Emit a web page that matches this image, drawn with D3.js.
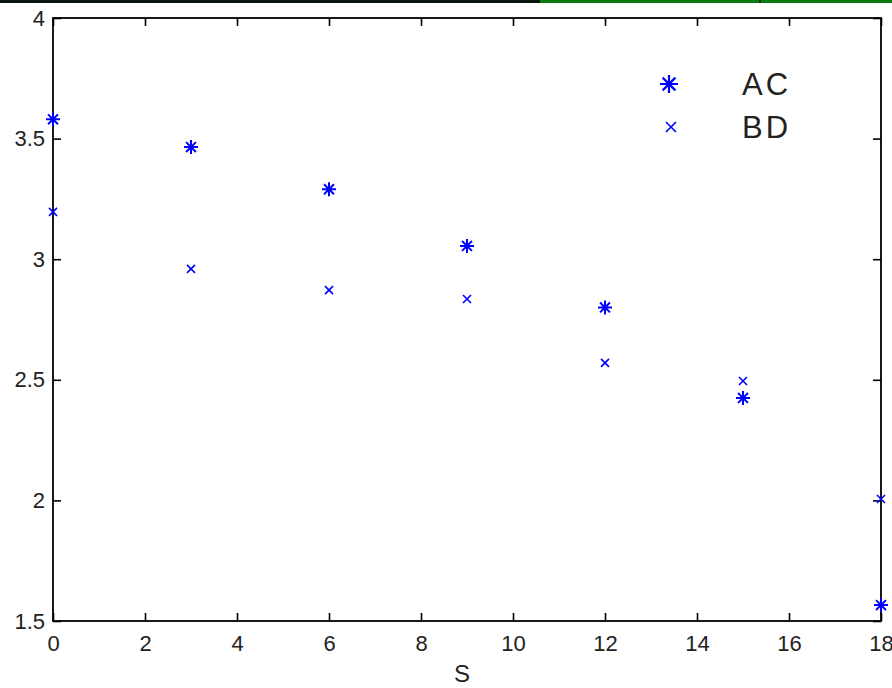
<!DOCTYPE html>
<html>
<head>
<meta charset="utf-8">
<script src="https://cdn.jsdelivr.net/npm/d3@7"></script>
<style>
  body { margin: 0; background: #fff; }
  svg { display: block; font-family: "Liberation Sans", Arial, sans-serif; }
  .axis text { font-size: 22px; fill: #222; }
  .axis path, .axis line { stroke: #000; stroke-width: 1.6; }
</style>
</head>
<body>
<div id="chart"></div>
<script>
// data
let sVals = [0, 3, 6, 9, 12, 15, 18];
let acVals = [3.58, 3.465, 3.29, 3.055, 2.80, 2.425, 1.566];
let bdVals = [3.196, 2.96, 2.872, 2.835, 2.57, 2.495, 2.006];
let xTicks = [0, 2, 4, 6, 8, 10, 12, 14, 16, 18];
let yTicks = [1.5, 2, 2.5, 3, 3.5, 4];
let seriesNames = ["AC", "BD"];

let width = 892, height = 688;
let margin = {top: 18, right: 11, bottom: 67, left: 53};
let w = width - margin.left - margin.right,
    h = height - margin.top - margin.bottom;

let svg = d3.select("#chart").append("svg")
    .attr("width", width)
    .attr("height", height);

// strip at the very top of the screenshot
svg.append("rect").attr("x", 0).attr("y", 0).attr("width", 545).attr("height", 3).attr("fill", "#0b140d");
svg.append("rect").attr("x", 540).attr("y", 0).attr("width", 352).attr("height", 3).attr("fill", "#0a7a12");
svg.append("rect").attr("x", 759).attr("y", 0).attr("width", 2).attr("height", 3).attr("fill", "#0b3a0e");

let g = svg.append("g")
    .attr("transform", "translate(" + margin.left + "," + margin.top + ")");

let x = d3.scaleLinear().domain([0, 18]).range([0, w]);
let y = d3.scaleLinear().domain([1.5, 4]).range([h, 0]);

// bottom / left axes with inward ticks
g.append("g")
    .attr("class", "axis")
    .attr("transform", "translate(0," + h + ")")
    .call(d3.axisBottom(x).tickValues(xTicks).tickSize(-8).tickPadding(14).tickFormat(d3.format("d")))
    .call(a => a.select(".domain").remove());

g.append("g")
    .attr("class", "axis")
    .call(d3.axisLeft(y).tickValues(yTicks).tickSize(-8).tickPadding(8).tickFormat(d => Number.isInteger(d) ? d3.format("d")(d) : d3.format(".1f")(d)))
    .call(a => a.select(".domain").remove());

// top / right ticks, no labels
g.append("g")
    .attr("class", "axis")
    .call(d3.axisTop(x).tickValues(xTicks).tickSize(-8).tickFormat(""))
    .call(a => a.select(".domain").remove());

g.append("g")
    .attr("class", "axis")
    .attr("transform", "translate(" + w + ",0)")
    .call(d3.axisRight(y).tickValues(yTicks).tickSize(-8).tickFormat(""))
    .call(a => a.select(".domain").remove());

g.append("rect")
    .attr("width", w)
    .attr("height", h)
    .attr("fill", "none")
    .attr("stroke", "#000")
    .attr("stroke-width", 1.8);

g.append("text")
    .attr("x", w / 2 - 5)
    .attr("y", h + 61)
    .attr("text-anchor", "middle")
    .attr("fill", "#222")
    .style("font-size", "24px")
    .text("S");

// marker shapes
function starPath(r) {
    let p = "";
    for (let i = 0; i < 4; i++) {
        let a = i * Math.PI / 4;
        let dx = r * Math.cos(a), dy = r * Math.sin(a);
        p += "M" + (-dx) + "," + (-dy) + "L" + dx + "," + dy;
    }
    return p;
}
function crossPath(r) {
    return "M" + (-r) + "," + (-r) + "L" + r + "," + r + "M" + (-r) + "," + r + "L" + r + "," + (-r);
}

let blue = "#0000ff";

let acData = sVals.map((s, i) => ({s: s, v: acVals[i]}));
let bdData = sVals.map((s, i) => ({s: s, v: bdVals[i]}));

g.selectAll(".ac")
    .data(acData)
    .enter().append("path")
    .attr("class", "ac")
    .attr("transform", d => "translate(" + x(d.s) + "," + y(d.v) + ")")
    .attr("d", starPath(7))
    .attr("stroke", blue)
    .attr("stroke-width", 2)
    .attr("fill", "none");

g.selectAll(".bd")
    .data(bdData)
    .enter().append("path")
    .attr("class", "bd")
    .attr("transform", d => "translate(" + x(d.s) + "," + y(d.v) + ")")
    .attr("d", crossPath(4))
    .attr("stroke", blue)
    .attr("stroke-width", 1.6)
    .attr("fill", "none");

// legend
let legend = svg.append("g").attr("transform", "translate(669,84)");
legend.append("path")
    .attr("d", starPath(9))
    .attr("stroke", blue).attr("stroke-width", 2.2).attr("fill", "none");
legend.append("path")
    .attr("transform", "translate(2,43)")
    .attr("d", crossPath(5))
    .attr("stroke", blue).attr("stroke-width", 1.6).attr("fill", "none");
legend.selectAll(".lt")
    .data(seriesNames)
    .enter().append("text")
    .attr("class", "lt")
    .attr("x", 73)
    .attr("y", (d, i) => i * 43 + 11)
    .attr("fill", "#222")
    .style("font-size", "31px")
    .style("letter-spacing", "3px")
    .text(d => d);
</script>
</body>
</html>
